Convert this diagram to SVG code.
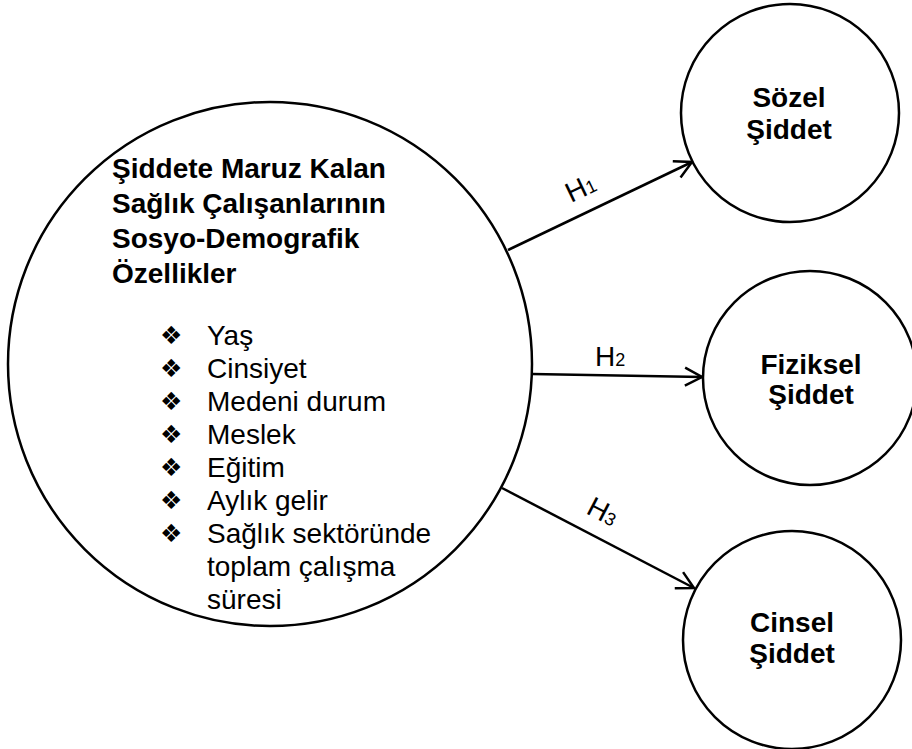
<svg xmlns="http://www.w3.org/2000/svg" width="912" height="749" viewBox="0 0 912 749">
<defs>
<style>
.c{fill:#fff;stroke:#000;stroke-width:2.5}
.b{font-family:"Liberation Sans",Arial,sans-serif;font-weight:bold;font-size:28px;fill:#000}
.t{font-family:"Liberation Sans",Arial,sans-serif;font-size:28px;fill:#000}
.bl{font-family:"DejaVu Sans",sans-serif;font-size:25px;fill:#000}
.h{font-family:"Liberation Sans",Arial,sans-serif;font-size:28px;fill:#000}
.s{font-size:18px}
.l{stroke:#000;stroke-width:2.5;fill:none}
</style>
<marker id="ah" markerUnits="userSpaceOnUse" markerWidth="24" markerHeight="24" refX="20" refY="10" orient="auto" viewBox="0 0 24 20">
<path d="M3,1 L20,10 L3,19" fill="none" stroke="#000" stroke-width="2.5"/>
</marker>
</defs>
<rect width="912" height="749" fill="#fff"/>
<g id="connectors">
<line class="l" x1="508" y1="250" x2="692" y2="162" marker-end="url(#ah)"/>
<line class="l" x1="532" y1="374" x2="702" y2="377" marker-end="url(#ah)"/>
<line class="l" x1="502" y1="488" x2="694" y2="588" marker-end="url(#ah)"/>
<text class="h" transform="translate(571,203) rotate(-25.6)">H<tspan class="s">1</tspan></text>
<text class="h" x="595" y="366">H<tspan class="s">2</tspan></text>
<text class="h" transform="translate(585,513) rotate(27.4)">H<tspan class="s">3</tspan></text>
</g>
<g id="main">
<circle class="c" cx="270" cy="364" r="262"/>
<text class="b" x="112" y="178">Şiddete Maruz Kalan</text>
<text class="b" x="112" y="213">Sağlık Çalışanlarının</text>
<text class="b" x="112" y="248">Sosyo-Demografik</text>
<text class="b" x="112" y="283">Özellikler</text>
<g class="bl">
<text x="160" y="344">❖</text>
<text x="160" y="377">❖</text>
<text x="160" y="410">❖</text>
<text x="160" y="443">❖</text>
<text x="160" y="476">❖</text>
<text x="160" y="509">❖</text>
<text x="160" y="542">❖</text>
</g>
<text class="t" x="207" y="345">Yaş</text>
<text class="t" x="207" y="378">Cinsiyet</text>
<text class="t" x="207" y="411">Medeni durum</text>
<text class="t" x="207" y="444">Meslek</text>
<text class="t" x="207" y="477">Eğitim</text>
<text class="t" x="207" y="510">Aylık gelir</text>
<text class="t" x="207" y="543">Sağlık sektöründe</text>
<text class="t" x="207" y="576">toplam çalışma</text>
<text class="t" x="207" y="609">süresi</text>
</g>
<g id="sozel">
<circle class="c" cx="790" cy="113" r="109"/>
<text class="b" x="789" y="107" text-anchor="middle">Sözel</text>
<text class="b" x="789" y="139" text-anchor="middle">Şiddet</text>
</g>
<g id="fiziksel">
<circle class="c" cx="810" cy="378" r="107"/>
<text class="b" x="811" y="374" text-anchor="middle">Fiziksel</text>
<text class="b" x="811" y="404" text-anchor="middle">Şiddet</text>
</g>
<g id="cinsel">
<circle class="c" cx="792" cy="640" r="109"/>
<text class="b" x="792" y="632" text-anchor="middle">Cinsel</text>
<text class="b" x="792" y="663" text-anchor="middle">Şiddet</text>
</g>
</svg>
